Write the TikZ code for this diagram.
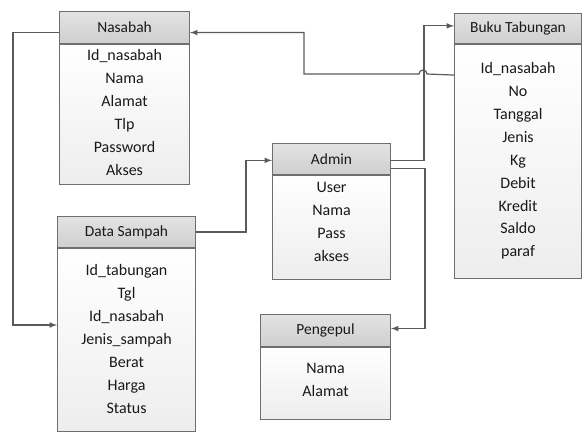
\documentclass[tikz,border=0pt]{standalone}
\usepackage{fontspec}
\setmainfont{Carlito}
\usetikzlibrary{calc}
\definecolor{boxline}{HTML}{6E6E6E}
\definecolor{linkline}{HTML}{5A5A5A}
\definecolor{headfill}{HTML}{CDCDCD}
\begin{document}
\begin{tikzpicture}[x=0.75pt,y=-0.75pt,
    head/.style={draw=boxline, line width=0.8pt, top color=gray!22, bottom color=gray!38, anchor=north west, inner sep=0pt, font=\fontsize{11.6}{13}\selectfont, text=black!90},
    body/.style={draw=boxline, line width=0.8pt, top color=white, bottom color=gray!14, anchor=north, inner sep=0pt},
    fields/.style={anchor=north, align=center, inner sep=0pt, font=\fontsize{12}{17.2}\selectfont, text=black!90},
    link/.style={draw=linkline, line width=0.9pt, -latex}]
            \useasboundingbox (0,0) rectangle (583,432);
            %
            %Nasabah
            \node[head, minimum width=97.5pt, minimum height=24pt] (nasabah) at (59,11) {Nasabah};
            \node[body, minimum width=97.5pt, minimum height=105pt] (nasabahBody) at (nasabah.south) {};
            \node[fields] (nasabahFields) at ($(nasabahBody.north)+(0,5)$) {Id\_nasabah\\Nama\\Alamat\\Tlp\\Password\\Akses};
            %Buku Tabungan
            \node[head, minimum width=95.25pt, minimum height=22.5pt] (buku) at (454,13) {Buku Tabungan};
            \node[body, minimum width=95.25pt, minimum height=175.5pt] (bukuBody) at (buku.south) {};
            \node[fields] (bukuFields) at ($(bukuBody.north)+(0,18)$) {Id\_nasabah\\No\\Tanggal\\Jenis\\Kg\\Debit\\Kredit\\Saldo\\paraf};
            %Admin
            \node[head, minimum width=88.5pt, minimum height=23.25pt] (admin) at (272,143) {Admin};
            \node[body, minimum width=88.5pt, minimum height=78pt] (adminBody) at (admin.south) {};
            \node[fields] (adminFields) at ($(adminBody.north)+(0,7)$) {User\\Nama\\Pass\\akses};
            %Data Sampah
            \node[head, minimum width=103.5pt, minimum height=23.25pt] (sampah) at (57,216) {Data Sampah};
            \node[body, minimum width=103.5pt, minimum height=137.25pt] (sampahBody) at (sampah.south) {};
            \node[fields] (sampahFields) at ($(sampahBody.north)+(0,16)$) {Id\_tabungan\\Tgl\\Id\_nasabah\\Jenis\_sampah\\Berat\\Harga\\Status};
            %Pengepul
            \node[head, minimum width=97.5pt, minimum height=24pt] (pengepul) at (260,314) {Pengepul};
            \node[body, minimum width=97.5pt, minimum height=54pt] (pengepulBody) at (pengepul.south) {};
            \node[fields] (pengepulFields) at ($(pengepulBody.north)+(0,16)$) {Nama\\Alamat};
            %
            %Nasabah -> Data Sampah
            \coordinate (loopSW) at (13,325);
            \draw[link] ([yshift=-3.75pt]nasabah.west) -| (loopSW) -- (loopSW -| sampahBody.west);
            %Buku Tabungan -> Nasabah (with hop)
            \draw[link] ($(bukuBody.north west)+(0,31)$) -- (427,74) arc[start angle=0, end angle=180, radius=3pt] -- (304,74) |- ([yshift=-3.75pt]nasabah.east);
            %Data Sampah -> Admin
            \draw[link] (sampah.east) -- ++(50,0) |- ([yshift=-1pt]admin.west);
            %Admin -> Buku Tabungan
            \draw[link] ([yshift=-1pt]admin.east) -- ++(33,0) |- ([yshift=2pt]buku.west);
            %Admin -> Pengepul
            \draw[link] ([yshift=-7pt]admin.east) -- ++(34,0) |- ([yshift=1.5pt]pengepul.east);
            %
        \end{tikzpicture}
\end{document}
